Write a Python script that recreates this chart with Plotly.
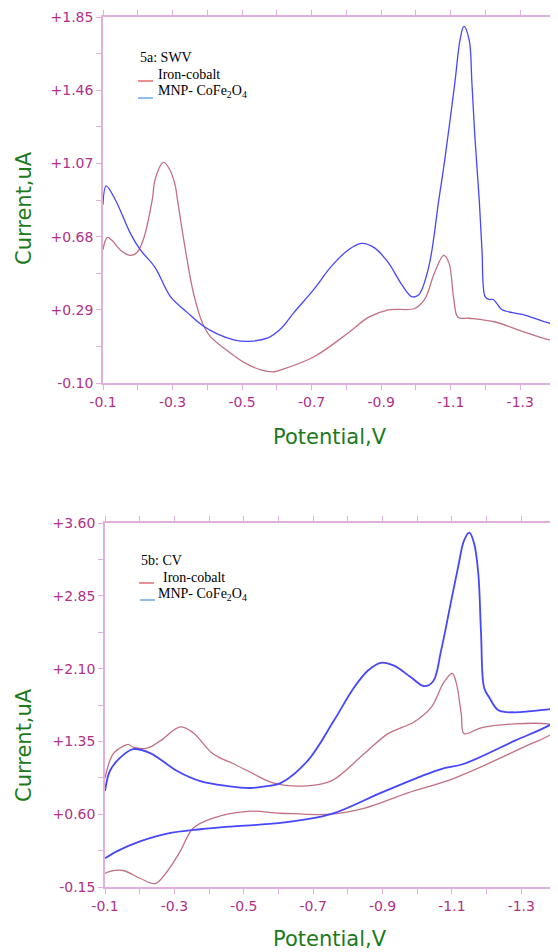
import plotly.graph_objects as go

# ---------------- data: 5a SWV ----------------
swv_fe_x = [-0.100, -0.112, -0.126, -0.149, -0.178, -0.198, -0.216, -0.242, -0.250, -0.274, -0.291,
            -0.308, -0.314, -0.337, -0.360, -0.386, -0.409, -0.459, -0.505, -0.554, -0.592, -0.612,
            -0.707, -0.806, -0.863, -0.921, -0.996, -1.025, -1.054, -1.080, -1.095, -1.109, -1.121,
            -1.153, -1.228, -1.306, -1.384, -1.401]
swv_fe_y = [0.61, 0.675, 0.66, 0.61, 0.58, 0.595, 0.665, 0.88, 0.985, 1.075, 1.04,
            0.95, 0.878, 0.61, 0.38, 0.22, 0.147, 0.07, 0.01, -0.03, -0.04, -0.03,
            0.04, 0.168, 0.25, 0.29, 0.297, 0.345, 0.49, 0.58, 0.54, 0.345, 0.25,
            0.245, 0.225, 0.175, 0.13, 0.128]

swv_mnp_x = [-0.100, -0.109, -0.135, -0.178, -0.207, -0.250, -0.294, -0.343, -0.386, -0.430, -0.476,
             -0.519, -0.574, -0.612, -0.649, -0.707, -0.756, -0.806, -0.843, -0.881, -0.921, -0.959,
             -0.988, -1.008, -1.037, -1.066, -1.083, -1.112, -1.127, -1.138, -1.153, -1.161, -1.170,
             -1.182, -1.190, -1.199, -1.210, -1.222, -1.234, -1.248, -1.306, -1.364, -1.401]
swv_mnp_y = [0.85, 0.95, 0.878, 0.70, 0.61, 0.515, 0.36, 0.275, 0.206, 0.16, 0.13,
             0.122, 0.14, 0.19, 0.275, 0.40, 0.52, 0.61, 0.644, 0.62, 0.54, 0.425,
             0.36, 0.37, 0.52, 0.878, 1.09, 1.50, 1.73, 1.80, 1.73, 1.50, 1.20,
             0.88, 0.61, 0.36, 0.345, 0.345, 0.32, 0.29, 0.265, 0.23, 0.21]

# ---------------- data: 5b CV ----------------
cv_fe_x = [-0.100, -0.123, -0.152, -0.167, -0.181, -0.221, -0.259, -0.317, -0.354, -0.412, -0.470,
           -0.528, -0.586, -0.673, -0.751, -0.846, -0.916, -0.991, -1.040, -1.077, -1.101, -1.112,
           -1.127, -1.135, -1.184, -1.280, -1.378, -1.400,
           -1.400, -1.300, -1.106, -0.973, -0.846, -0.751, -0.606, -0.511, -0.412, -0.354, -0.317,
           -0.279, -0.245, -0.201, -0.152, -0.114, -0.100]
cv_fe_y = [0.97, 1.22, 1.30, 1.32, 1.29, 1.28, 1.355, 1.50, 1.44, 1.22, 1.12,
           1.015, 0.92, 0.89, 0.94, 1.22, 1.43, 1.55, 1.70, 1.96, 2.05, 1.96,
           1.63, 1.43, 1.49, 1.53, 1.53, 1.51,
           1.46, 1.28, 0.97, 0.82, 0.66, 0.60, 0.61, 0.63, 0.56, 0.455, 0.22,
           0.01, -0.115, -0.06, 0.02, 0.01, -0.01]

cv_mnp_x = [-0.100, -0.114, -0.143, -0.181, -0.230, -0.308, -0.375, -0.453, -0.519, -0.568, -0.606,
            -0.684, -0.759, -0.817, -0.858, -0.895, -0.933, -0.982, -1.020, -1.046, -1.069, -1.098,
            -1.118, -1.135, -1.150, -1.164, -1.176, -1.184, -1.193, -1.208, -1.234, -1.280, -1.378,
            -1.400,
            -1.400, -1.387, -1.280, -1.135, -1.069, -1.011, -0.895, -0.751, -0.606, -0.470, -0.375,
            -0.279, -0.201, -0.135, -0.100]
cv_mnp_y = [0.838, 1.045, 1.18, 1.27, 1.23, 1.045, 0.94, 0.89, 0.87, 0.89, 0.92,
            1.15, 1.56, 1.90, 2.08, 2.16, 2.13, 2.01, 1.92, 1.97, 2.29, 2.80,
            3.15, 3.42, 3.50, 3.39, 3.08, 2.46, 1.90, 1.80, 1.67, 1.65, 1.68,
            1.69,
            1.58, 1.53, 1.355, 1.12, 1.065, 0.99, 0.82, 0.60, 0.51, 0.475, 0.445,
            0.40, 0.32, 0.22, 0.145]

x_tickvals = [-0.1, -0.3, -0.5, -0.7, -0.9, -1.1, -1.3]
x_ticktext = ["-0.1", "-0.3", "-0.5", "-0.7", "-0.9", "-1.1", "-1.3"]
x_minor = [-0.2, -0.4, -0.6, -0.8, -1.0, -1.2, -1.4]

ya_major = [-0.10, 0.29, 0.68, 1.07, 1.46, 1.85]
yb_major = [-0.15, 0.60, 1.35, 2.10, 2.85, 3.60]
ya_text = ["-0.10", "+0.29", "+0.68", "+1.07", "+1.46", "+1.85"]
yb_text = ["-0.15", "+0.60", "+1.35", "+2.10", "+2.85", "+3.60"]

def midpoints(vals):
    return [(vals[i] + vals[i + 1]) / 2 for i in range(len(vals) - 1)]

RED = "#c27083"
BLUE = "#4646ff"
AXIS = "#e2aedb"
TICK = "#b0308a"
GREEN = "#1b7a1b"

# page body has an 8px margin, so the figure is drawn at (8, 8)
OFF = 8
W, H = 558 - OFF, 952 - OFF

fig = go.Figure()
fig.add_trace(go.Scatter(x=swv_fe_x, y=swv_fe_y, mode="lines", line=dict(color=RED, width=1.3, shape="spline"),
                         xaxis="x", yaxis="y", showlegend=False))
fig.add_trace(go.Scatter(x=swv_mnp_x, y=swv_mnp_y, mode="lines", line=dict(color=BLUE, width=1.3, shape="spline"),
                         xaxis="x", yaxis="y", showlegend=False))
fig.add_trace(go.Scatter(x=cv_fe_x, y=cv_fe_y, mode="lines", line=dict(color=RED, width=1.3, shape="spline"),
                         xaxis="x2", yaxis="y2", showlegend=False))
fig.add_trace(go.Scatter(x=cv_mnp_x, y=cv_mnp_y, mode="lines", line=dict(color=BLUE, width=1.8, shape="spline"),
                         xaxis="x2", yaxis="y2", showlegend=False))

def px_x(p):
    return (p - OFF) / W

def px_y(p):
    return 1 - (p - OFF) / H

def axis_common(minor_vals):
    return dict(showgrid=False, zeroline=False, showline=True, linecolor=AXIS, linewidth=1.5,
                ticks="outside", ticklen=5, tickcolor=AXIS, tickwidth=1, mirror="ticks",
                automargin=False,
                minor=dict(tickmode="array", tickvals=minor_vals, ticks="outside", ticklen=5,
                           tickcolor=AXIS, tickwidth=1, showgrid=False),
                tickfont=dict(family="DejaVu Sans", size=14, color=TICK))

fig.update_layout(
    width=W, height=H, margin=dict(l=0, r=0, t=0, b=0, autoexpand=False),
    paper_bgcolor="white", plot_bgcolor="white",
    xaxis=dict(domain=[px_x(103), px_x(555)], range=[-0.1, -1.4], anchor="y",
               tickmode="array", tickvals=x_tickvals, ticktext=x_ticktext, **axis_common(x_minor)),
    yaxis=dict(domain=[px_y(383), px_y(17)], range=[-0.10, 1.85], anchor="x",
               tickmode="array", tickvals=ya_major, ticktext=ya_text, **axis_common(midpoints(ya_major))),
    xaxis2=dict(domain=[px_x(105), px_x(556)], range=[-0.1, -1.4], anchor="y2",
                tickmode="array", tickvals=x_tickvals, ticktext=x_ticktext, **axis_common(x_minor)),
    yaxis2=dict(domain=[px_y(887), px_y(523)], range=[-0.15, 3.60], anchor="x2",
                tickmode="array", tickvals=yb_major, ticktext=yb_text, **axis_common(midpoints(yb_major))),
)

title_font = dict(family="DejaVu Sans", size=21, color=GREEN)
ann = []
ann.append(dict(x=px_x(24), y=px_y(208), text="Current,uA", textangle=-90, font=title_font))
ann.append(dict(x=px_x(330), y=px_y(437), text="Potential,V", font=title_font))
ann.append(dict(x=px_x(24), y=px_y(745), text="Current,uA", textangle=-90, font=title_font))
ann.append(dict(x=px_x(330), y=px_y(939), text="Potential,V", font=title_font))

leg_font = dict(family="Liberation Serif", size=14, color="black")
legend_items = [
    (138, 58, "5a: SWV"), (156, 74, "Iron-cobalt"), (156, 91, "MNP- CoFe<sub>2</sub>O<sub>4</sub>"),
    (139, 560, "5b: CV"), (161, 577, "Iron-cobalt"), (156, 594, "MNP- CoFe<sub>2</sub>O<sub>4</sub>"),
]
for xl, yc, t in legend_items:
    ann.append(dict(x=px_x(xl), y=px_y(yc), text=t, xanchor="left", font=leg_font))

for a in ann:
    a.update(xref="paper", yref="paper", showarrow=False)
    a.setdefault("xanchor", "center")
    a.setdefault("yanchor", "middle")
fig.update_layout(annotations=ann)

swatches = [(138, 153, 81, "#e06a6a"), (138, 153, 98, "#6aa8e6"),
            (139, 154, 583, "#e06a6a"), (140, 155, 600, "#6aa8e6")]
shapes = []
for x0, x1, yy, c in swatches:
    shapes.append(dict(type="line", xref="paper", yref="paper", x0=px_x(x0), x1=px_x(x1),
                       y0=px_y(yy), y1=px_y(yy), line=dict(color=c, width=1.5)))
fig.update_layout(shapes=shapes)

fig.write_html("out.html")
